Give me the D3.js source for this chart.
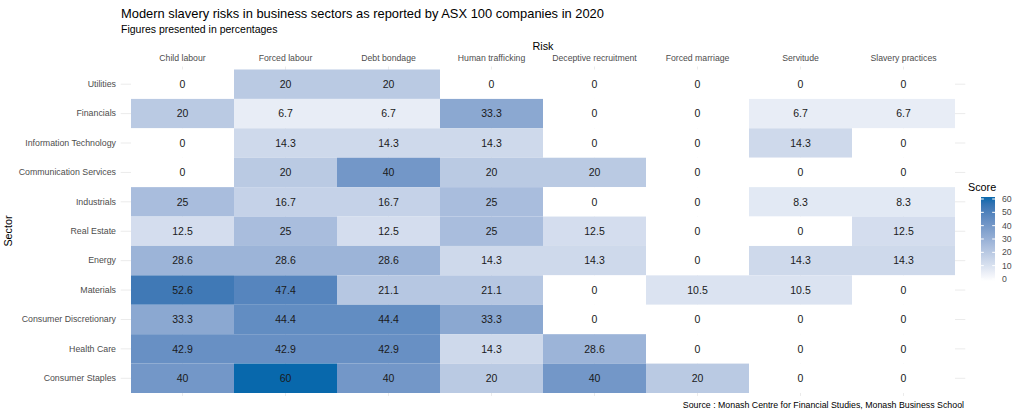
<!DOCTYPE html>
<html>
<head>
<meta charset="utf-8">
<script src="https://cdn.jsdelivr.net/npm/d3@7"></script>
<style>
  body { margin: 0; background: #fff; }
  text { font-family: "Liberation Sans", Arial, sans-serif; }
</style>
</head>
<body>
<svg id="chart" width="1024" height="414"></svg>
<script>
// risks across the top, sectors down the side
let risks = ["Child labour", "Forced labour", "Debt bondage", "Human trafficking",
             "Deceptive recruitment", "Forced marriage", "Servitude", "Slavery practices"];
let sectors = ["Utilities", "Financials", "Information Technology", "Communication Services",
               "Industrials", "Real Estate", "Energy", "Materials", "Consumer Discretionary",
               "Health Care", "Consumer Staples"];

// one row per sector, in the order of risks
let utilities      = [0, 20, 20, 0, 0, 0, 0, 0];
let financials     = [20, 6.7, 6.7, 33.3, 0, 0, 6.7, 6.7];
let infoTech       = [0, 14.3, 14.3, 14.3, 0, 0, 14.3, 0];
let commServices   = [0, 20, 40, 20, 20, 0, 0, 0];
let industrials    = [25, 16.7, 16.7, 25, 0, 0, 8.3, 8.3];
let realEstate     = [12.5, 25, 12.5, 25, 12.5, 0, 0, 12.5];
let energy         = [28.6, 28.6, 28.6, 14.3, 14.3, 0, 14.3, 14.3];
let materials      = [52.6, 47.4, 21.1, 21.1, 0, 10.5, 10.5, 0];
let consDisc       = [33.3, 44.4, 44.4, 33.3, 0, 0, 0, 0];
let healthCare     = [42.9, 42.9, 42.9, 14.3, 28.6, 0, 0, 0];
let consStaples    = [40, 60, 40, 20, 40, 20, 0, 0];

let legendTicks = [0, 10, 20, 30, 40, 50, 60];

let rows = [utilities, financials, infoTech, commServices, industrials, realEstate,
            energy, materials, consDisc, healthCare, consStaples];

let cells = [];
rows.forEach(function (vals, i) {
    vals.forEach(function (v, j) {
        cells.push({sector: sectors[i], risk: risks[j], score: v});
    });
});

let svg = d3.select("#chart");

// tile area; panel sticks out a bit past the tiles like ggplot's discrete expansion
let x = d3.scaleBand().domain(risks).range([131, 955]);
let y = d3.scaleBand().domain(sectors).range([69.5, 393]);
let padX = x.bandwidth() * 0.1, padY = y.bandwidth() * 0.1;

let colorScale = d3.scaleLinear()
    .domain([0, 60])
    .range(["#ffffff", "#0868ac"])
    .interpolate(d3.interpolateLab);

// grid lines under the tiles
let grid = svg.append("g");
grid.selectAll(".vgrid")
    .data(risks)
    .enter()
    .append("line")
    .attr("x1", d => x(d) + x.bandwidth() / 2)
    .attr("x2", d => x(d) + x.bandwidth() / 2)
    .attr("y1", 69.5 - padY)
    .attr("y2", 393 + padY)
    .attr("stroke", "#ebebeb")
    .attr("stroke-width", 1);
grid.selectAll(".hgrid")
    .data(sectors)
    .enter()
    .append("line")
    .attr("x1", 131 - padX)
    .attr("x2", 955 + padX)
    .attr("y1", d => y(d) + y.bandwidth() / 2)
    .attr("y2", d => y(d) + y.bandwidth() / 2)
    .attr("stroke", "#ebebeb")
    .attr("stroke-width", 1);

// tiles
svg.append("g")
    .selectAll("rect")
    .data(cells)
    .enter()
    .append("rect")
    .attr("x", d => x(d.risk))
    .attr("y", d => y(d.sector))
    .attr("width", x.bandwidth())
    .attr("height", y.bandwidth())
    .attr("fill", d => colorScale(d.score));

// cell labels
svg.append("g")
    .selectAll("text")
    .data(cells)
    .enter()
    .append("text")
    .attr("x", d => x(d.risk) + x.bandwidth() / 2)
    .attr("y", d => y(d.sector) + y.bandwidth() / 2)
    .attr("dy", "0.36em")
    .attr("text-anchor", "middle")
    .attr("font-size", "10.5px")
    .attr("fill", "#1a1a1a")
    .text(d => d.score);

// top axis labels
let xAxis = svg.append("g")
    .attr("transform", "translate(0,61)")
    .call(d3.axisTop(x).tickSize(0).tickPadding(0));
xAxis.select(".domain").remove();
xAxis.selectAll("text")
    .attr("font-size", "8.7px")
    .attr("fill", "#4d4d4d")
    .attr("font-family", "Liberation Sans, Arial, sans-serif");

// left axis labels
let yAxis = svg.append("g")
    .attr("transform", "translate(116,0)")
    .call(d3.axisLeft(y).tickSize(0).tickPadding(0));
yAxis.select(".domain").remove();
yAxis.selectAll("text")
    .attr("font-size", "8.8px")
    .attr("fill", "#4d4d4d")
    .attr("font-family", "Liberation Sans, Arial, sans-serif");

// titles
svg.append("text")
    .attr("x", 121).attr("y", 18)
    .attr("font-size", "12.9px")
    .attr("fill", "#000")
    .text("Modern slavery risks in business sectors as reported by ASX 100 companies in 2020");
svg.append("text")
    .attr("x", 121).attr("y", 33)
    .attr("font-size", "10.5px")
    .attr("fill", "#000")
    .text("Figures presented in percentages");
svg.append("text")
    .attr("x", 543).attr("y", 50)
    .attr("text-anchor", "middle")
    .attr("font-size", "10.8px")
    .attr("fill", "#000")
    .text("Risk");
svg.append("text")
    .attr("transform", "translate(12,231) rotate(-90)")
    .attr("text-anchor", "middle")
    .attr("font-size", "10.8px")
    .attr("fill", "#000")
    .text("Sector");
svg.append("text")
    .attr("x", 964).attr("y", 408)
    .attr("text-anchor", "end")
    .attr("font-size", "8.8px")
    .attr("fill", "#000")
    .text("Source : Monash Centre for Financial Studies, Monash Business School");

// colour bar legend
let legendY = d3.scaleLinear().domain([0, 60]).range([279, 199]);
let defs = svg.append("defs");
let grad = defs.append("linearGradient")
    .attr("id", "scoreGrad")
    .attr("x1", "0").attr("y1", "1").attr("x2", "0").attr("y2", "0");
d3.range(0, 61, 5).forEach(function (v) {
    grad.append("stop")
        .attr("offset", (v / 60 * 100) + "%")
        .attr("stop-color", colorScale(v));
});
let barX = 981, barW = 14;
svg.append("rect")
    .attr("x", barX)
    .attr("y", legendY(60) - 2)
    .attr("width", barW)
    .attr("height", legendY(0) - legendY(60) + 4)
    .attr("fill", "url(#scoreGrad)");
let leg = svg.append("g");
leg.selectAll(".tl")
    .data(legendTicks)
    .enter()
    .append("line")
    .attr("x1", barX).attr("x2", barX + 2.8)
    .attr("y1", d => legendY(d)).attr("y2", d => legendY(d))
    .attr("stroke", "#fff");
leg.selectAll(".tr")
    .data(legendTicks)
    .enter()
    .append("line")
    .attr("x1", barX + barW - 2.8).attr("x2", barX + barW)
    .attr("y1", d => legendY(d)).attr("y2", d => legendY(d))
    .attr("stroke", "#fff");
leg.selectAll("text")
    .data(legendTicks)
    .enter()
    .append("text")
    .attr("x", barX + barW + 7)
    .attr("y", d => legendY(d))
    .attr("dy", "0.36em")
    .attr("font-size", "8.7px")
    .attr("fill", "#4d4d4d")
    .text(d => d);
svg.append("text")
    .attr("x", 968).attr("y", 191)
    .attr("font-size", "10.8px")
    .attr("fill", "#000")
    .text("Score");
</script>
</body>
</html>
